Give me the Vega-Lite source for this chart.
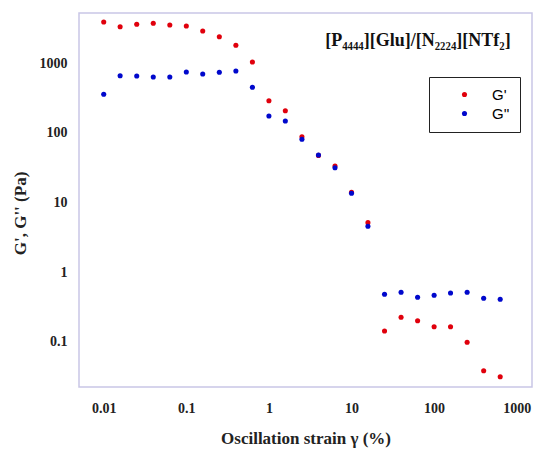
{
  "$schema": "https://vega.github.io/schema/vega-lite/v6.json",
  "width": 453,
  "height": 374,
  "autosize": "none",
  "padding": {"left": 79, "top": 13, "right": 1, "bottom": 64},
  "background": "white",
  "config": {
    "view": {"stroke": "#c9c6e6", "strokeWidth": 1.5},
    "font": "Liberation Serif"
  },
  "datasets": {
    "pts": [
      {"strain": 0.01, "series": "G'", "modulus": 3920},
      {"strain": 0.0158, "series": "G'", "modulus": 3357},
      {"strain": 0.0251, "series": "G'", "modulus": 3633},
      {"strain": 0.0398, "series": "G'", "modulus": 3755},
      {"strain": 0.0631, "series": "G'", "modulus": 3550},
      {"strain": 0.1, "series": "G'", "modulus": 3435},
      {"strain": 0.158, "series": "G'", "modulus": 2912},
      {"strain": 0.251, "series": "G'", "modulus": 2411},
      {"strain": 0.398, "series": "G'", "modulus": 1814},
      {"strain": 0.631, "series": "G'", "modulus": 1044},
      {"strain": 1, "series": "G'", "modulus": 290},
      {"strain": 1.58, "series": "G'", "modulus": 208},
      {"strain": 2.51, "series": "G'", "modulus": 88},
      {"strain": 3.98, "series": "G'", "modulus": 47.5},
      {"strain": 6.31, "series": "G'", "modulus": 33.4},
      {"strain": 10, "series": "G'", "modulus": 14.0},
      {"strain": 15.8, "series": "G'", "modulus": 5.13},
      {"strain": 25.1, "series": "G'", "modulus": 0.1425},
      {"strain": 39.8, "series": "G'", "modulus": 0.224},
      {"strain": 63.1, "series": "G'", "modulus": 0.200},
      {"strain": 100, "series": "G'", "modulus": 0.164},
      {"strain": 158, "series": "G'", "modulus": 0.164},
      {"strain": 251, "series": "G'", "modulus": 0.098},
      {"strain": 398, "series": "G'", "modulus": 0.0383},
      {"strain": 631, "series": "G'", "modulus": 0.0314},
      {"strain": 0.01, "series": "G''", "modulus": 359},
      {"strain": 0.0158, "series": "G''", "modulus": 663},
      {"strain": 0.0251, "series": "G''", "modulus": 657},
      {"strain": 0.0398, "series": "G''", "modulus": 636},
      {"strain": 0.0631, "series": "G''", "modulus": 636},
      {"strain": 0.1, "series": "G''", "modulus": 750},
      {"strain": 0.158, "series": "G''", "modulus": 702},
      {"strain": 0.251, "series": "G''", "modulus": 742},
      {"strain": 0.398, "series": "G''", "modulus": 775},
      {"strain": 0.631, "series": "G''", "modulus": 452},
      {"strain": 1, "series": "G''", "modulus": 175},
      {"strain": 1.58, "series": "G''", "modulus": 148},
      {"strain": 2.51, "series": "G''", "modulus": 80.9},
      {"strain": 3.98, "series": "G''", "modulus": 48.1},
      {"strain": 6.31, "series": "G''", "modulus": 31.6},
      {"strain": 10, "series": "G''", "modulus": 13.6},
      {"strain": 15.8, "series": "G''", "modulus": 4.55},
      {"strain": 25.1, "series": "G''", "modulus": 0.480},
      {"strain": 39.8, "series": "G''", "modulus": 0.513},
      {"strain": 63.1, "series": "G''", "modulus": 0.435},
      {"strain": 100, "series": "G''", "modulus": 0.464},
      {"strain": 158, "series": "G''", "modulus": 0.501},
      {"strain": 251, "series": "G''", "modulus": 0.513},
      {"strain": 398, "series": "G''", "modulus": 0.421},
      {"strain": 631, "series": "G''", "modulus": 0.407}
    ],
    "note": [{"label": "[P₄₄₄₄][Glu]/[N₂₂₂₄][NTf₂]"}]
  },
  "layer": [
    {
      "data": {"name": "pts"},
      "mark": {"type": "circle", "size": 26, "opacity": 1},
      "encoding": {
        "x": {
          "field": "strain",
          "type": "quantitative",
          "scale": {"type": "log", "domain": [0.00502, 1531], "nice": false},
          "axis": {
            "title": "Oscillation strain γ (%)",
            "values": [0.01, 0.1, 1, 10, 100, 1000],
            "labelExpr": "datum.value >= 1 ? format(datum.value, 'd') : datum.value > 0.05 ? '0.1' : '0.01'",
            "domain": false,
            "ticks": false,
            "grid": false,
            "labelFont": "Liberation Serif",
            "labelFontWeight": "bold",
            "labelFontSize": 14,
            "labelColor": "#222",
            "labelPadding": 14,
            "titleFont": "Liberation Serif",
            "titleFontWeight": "bold",
            "titleFontSize": 17,
            "titleColor": "#222",
            "titlePadding": 15
          }
        },
        "y": {
          "field": "modulus",
          "type": "quantitative",
          "scale": {"type": "log", "domain": [0.02234, 5280], "nice": false},
          "axis": {
            "title": "G', G'' (Pa)",
            "values": [0.1, 1, 10, 100, 1000],
            "labelExpr": "datum.value >= 1 ? format(datum.value, 'd') : '0.1'",
            "domain": false,
            "ticks": false,
            "grid": false,
            "labelFont": "Liberation Serif",
            "labelFontWeight": "bold",
            "labelFontSize": 14,
            "labelColor": "#222",
            "labelPadding": 12,
            "titleFont": "Liberation Serif",
            "titleFontWeight": "bold",
            "titleFontSize": 17,
            "titleColor": "#222",
            "titleY": 200,
            "titlePadding": 10
          }
        },
        "color": {
          "field": "series",
          "type": "nominal",
          "scale": {"domain": ["G'", "G''"], "range": ["#e0000c", "#0008cc"]},
          "legend": {
            "title": null,
            "orient": "none",
            "legendX": 350,
            "legendY": 64,
            "strokeColor": "#222",
            "fillColor": "white",
            "padding": 10,
            "symbolOffset": 18,
            "symbolType": "circle",
            "symbolSize": 26,
            "labelOffset": 20,
            "labelFont": "Liberation Sans",
            "labelFontSize": 15,
            "rowPadding": 3,
            "symbolStrokeWidth": 0,
            "labelLimit": 200,
            "encode": {
              "legend": {
                "update": {"strokeWidth": {"value": 2}}
              },
              "labels": {
                "update": {
                  "fill": {"signal": "datum.label == \"G'\" ? '#e0000c' : '#0008cc'"}
                }
              }
            }
          }
        }
      }
    },
    {
      "data": {"name": "note"},
      "mark": {
        "type": "text",
        "align": "right",
        "baseline": "middle",
        "font": "Liberation Serif",
        "fontWeight": "bold",
        "fontSize": 18,
        "color": "#111"
      },
      "encoding": {
        "x": {"datum": 845},
        "y": {"datum": 2090},
        "text": {"field": "label"}
      }
    }
  ]
}
